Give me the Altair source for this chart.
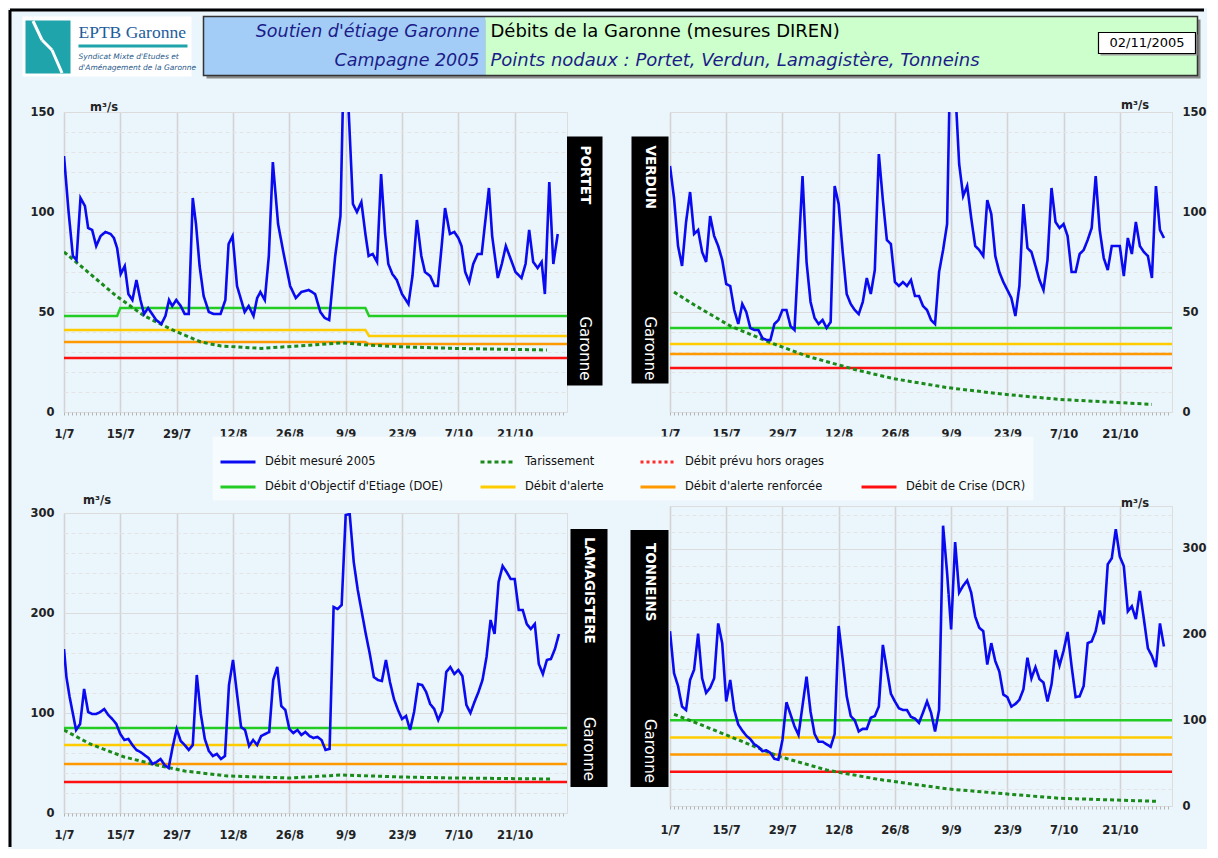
import json
import altair as alt
import pandas as pd

FONT = "DejaVu Sans"
BG = "#eaf5fc"

# ---------------- axis ticks ----------------
X_TICK_DAYS = [0, 14, 28, 42, 56, 70, 84, 98, 112]
X_TICK_LABELS = ["1/7", "15/7", "29/7", "12/8", "26/8", "9/9", "23/9", "7/10", "21/10"]
DAY_SPAN = [0, 125]

# ---------------- legend series ----------------
SERIES = ["Débit mesuré 2005", "Tarissement", "Débit prévu hors orages", " ",
          "Débit d'Objectif d'Etiage (DOE)", "Débit d'alerte", "Débit d'alerte renforcée",
          "Débit de Crise (DCR)"]
SERIES_COLORS = ["#0a0af0", "#1a8a1a", "#ff2a2a", "transparent", "#22cc22", "#ffcc00", "#ff9900", "#ff1010"]
SERIES_DASH = [[1, 0], [4, 3], [3, 3], [1, 0], [1, 0], [1, 0], [1, 0], [1, 0]]

# ---------------- PORTET ----------------
PORTET_DAYS = [0, 1.1, 2.2, 3.1, 4.1, 5.2, 6.0, 7.0, 8.0, 9.1,
               10.3, 11.6, 12.4, 13.2, 14.1, 15.1, 16.0, 17.0, 18.0, 19.0,
               19.9, 20.9, 21.9, 22.9, 24.2, 25.2, 26.1, 26.9, 27.9, 29.0,
               30.0, 31.0, 32.0, 32.8, 33.7, 34.7, 36.0, 37.2, 38.9, 40.1,
               40.9, 41.9, 43.0, 44.9, 45.9, 47.1, 48.0, 48.8, 49.9, 50.9,
               51.9, 53.2, 54.6, 56.2, 57.6, 59.0, 60.8, 62.4, 63.7, 64.8,
               65.9, 67.4, 68.7, 69.8, 70.3, 71.8, 72.8, 73.9, 74.9, 75.7,
               76.7, 77.8, 78.8, 79.8, 80.6, 81.6, 82.7, 84.0, 85.6, 86.6,
               87.7, 88.8, 89.7, 91.0, 92.1, 92.9, 93.9, 94.7, 95.9, 97.0,
               98.0, 98.8, 99.7, 100.7, 101.7, 102.8, 103.8, 105.6, 106.4, 107.8,
               108.8, 109.8, 111.1, 112.2, 113.7, 114.7, 115.6, 116.6, 117.7, 118.7,
               119.5, 120.6, 121.6, 122.7]
PORTET_FLOW = [128, 101, 78, 76, 107, 103, 92, 91, 83, 88,
               90, 89, 87, 82, 69, 73, 59, 56, 66, 56,
               49, 52, 49, 46, 44, 48, 56, 53, 56, 53,
               49, 49, 107, 94, 73, 58, 50, 49, 49, 56,
               84, 88, 63, 50, 53, 48, 57, 60, 56, 78,
               125, 94, 79, 63, 57, 60, 61, 59, 50, 47,
               46, 78, 98, 200, 170, 104, 100, 105, 89, 78,
               79, 75, 119, 89, 74, 69, 66, 59, 54, 68,
               96, 78, 70, 68, 63, 63, 84, 102, 89, 90,
               87, 83, 70, 65, 74, 79, 79, 112, 88, 67,
               74, 83, 76, 70, 67, 74, 91, 75, 72, 75,
               59, 115, 74, 89]
PORTET_TARIS_DAYS = [0, 3, 13, 20, 27, 34, 39, 49, 61, 69, 76, 84, 97, 120]
PORTET_TARIS = [80, 75, 58, 48, 41, 35, 33, 31.8, 33.4, 34.6, 33.4, 32.6, 31.8, 31]
PORTET_DOE_DAYS = [0, 13.2, 14.0, 74.9, 75.8, 125]
PORTET_DOE = [48, 48, 52, 52, 48, 48]
PORTET_STEP_DAYS = [0, 74.9, 75.8, 125]
PORTET_ALERTE = [41, 41, 38, 38]
PORTET_RENF = [35, 35, 34, 34]
PORTET_CRISE = [27, 27]

# ---------------- VERDUN ----------------
VERDUN_DAYS = [0, 1, 2, 3, 4, 5, 6, 7, 8, 9, 10, 11, 12, 13, 14, 15, 16, 17, 18, 19,
               20, 21, 22, 23, 24, 25, 26, 27, 28, 29, 30, 31, 33, 34, 35, 36, 37, 38, 39, 40,
               41, 42, 43, 44, 45, 46, 47, 48, 49, 50, 51, 52, 53, 54, 55, 56, 57, 58, 59, 60,
               61, 62, 63, 64, 65, 66, 67, 68, 69, 70, 71, 72, 73, 74, 75, 76, 77, 78, 79, 80,
               81, 82, 83, 84, 85, 86, 87, 88, 89, 90, 91, 92, 93, 94, 95, 96, 97, 98, 99, 100,
               101, 102, 103, 104, 105, 106, 107, 108, 109, 110, 111, 112, 113, 114, 115, 116,
               117, 118, 119, 120, 121, 122, 123]
VERDUN_FLOW = [123, 107, 83, 73, 95, 110, 89, 91, 80, 75, 98, 88, 83, 76, 64, 63, 51, 44, 54, 50,
               42, 41, 41, 37, 36, 36, 44, 46, 51, 51, 43, 41, 118, 75, 55, 47, 44, 46, 42, 45,
               113, 104, 80, 59, 54, 51, 49, 55, 67, 59, 71, 129, 106, 86, 84, 65, 63, 65, 63, 66,
               58, 58, 53, 51, 46, 44, 70, 81, 94, 200, 163, 124, 108, 113, 97, 83, 81, 78, 106, 99,
               78, 70, 65, 61, 57, 48, 63, 104, 82, 80, 73, 66, 61, 76, 112, 95, 92, 94, 88, 70,
               70, 79, 81, 86, 92, 118, 91, 77, 71, 83, 83, 83, 68, 87, 79, 95,
               83, 80, 78, 67, 113, 91, 87]
VERDUN_TARIS_DAYS = [1, 6, 15, 25, 34, 46.5, 55.6, 69, 83, 97, 120]
VERDUN_TARIS = [60, 53.6, 43, 34.7, 28, 21, 16.7, 12.2, 8.9, 6.3, 3.8]
VERDUN_DOE = [42, 42]
VERDUN_ALERTE = [34, 34]
VERDUN_RENF = [29, 29]
VERDUN_CRISE = [22, 22]

# ---------------- LAMAGISTERE ----------------
LAMAG_DAYS = [0, 0.6, 1.4, 3, 4, 5, 6, 7, 8, 9, 10, 11, 12, 13, 14, 15, 16, 17, 18, 19,
              20, 21, 22, 23, 24, 25, 26, 27, 28, 29, 30, 31, 32, 33, 34, 35, 36, 37, 38, 39,
              40, 41, 42, 43, 44, 45, 46, 47, 48, 49, 50, 51, 52, 53, 54, 55, 56, 57, 58, 59,
              60, 61, 62, 63, 64, 65, 66, 67, 68, 69, 70, 71, 72, 73, 74, 75, 76, 77, 78, 79,
              80, 81, 82, 83, 84, 85, 86, 87, 88, 89, 90, 91, 92, 93, 94, 95, 96, 97, 98, 99,
              100, 101, 102, 103, 104, 105, 106, 107, 108, 109, 110, 111, 112, 113, 114, 115,
              116, 117, 118, 119, 120, 121, 122, 123]
LAMAG_FLOW = [164, 136, 116, 83, 89, 124, 101, 99, 99, 101, 104, 98, 94, 89, 79, 73, 74, 68, 63, 61,
              58, 55, 49, 51, 54, 48, 45, 66, 84, 72, 68, 63, 68, 138, 99, 74, 62, 57, 59, 54,
              57, 128, 153, 119, 86, 83, 67, 73, 68, 77, 79, 81, 133, 146, 107, 103, 84, 80, 83, 78,
              81, 77, 75, 76, 73, 63, 64, 206, 204, 208, 298, 299, 251, 223, 201, 179, 159, 136, 133, 132,
              153, 131, 114, 103, 94, 97, 83, 101, 129, 128, 121, 109, 104, 93, 102, 141, 146, 139, 143, 137,
              108, 100, 111, 121, 133, 156, 193, 179, 231, 247, 241, 234, 234, 203, 203, 189,
              184, 189, 149, 139, 153, 154, 164, 179]
LAMAG_TARIS_DAYS = [0, 6.5, 15, 23, 30, 40.6, 56, 69, 84, 97, 121]
LAMAG_TARIS = [83, 69, 56, 48, 42, 37, 35, 38, 36, 35, 34]
LAMAG_DOE = [85, 85]
LAMAG_ALERTE = [68, 68]
LAMAG_RENF = [49, 49]
LAMAG_CRISE = [31, 31]

# ---------------- TONNEINS ----------------
TONN_DAYS = [0, 1, 2, 3, 4, 5, 6, 7, 8, 9, 10, 11, 12, 13, 14, 15, 16, 17, 18, 19,
             20, 21, 22, 23, 24, 25, 26, 27, 28, 29, 30, 31, 32, 34, 35, 36, 37, 38, 39, 40,
             41, 42, 43, 44, 45, 46, 47, 48, 49, 50, 51, 52, 53, 54, 55, 56, 57, 58, 59, 60,
             61, 62, 63, 64, 65, 66, 67, 68, 69, 70, 71, 72, 73, 74, 75, 76, 77, 78, 79, 80,
             81, 82, 83, 84, 85, 86, 87, 88, 89, 90, 91, 92, 93, 94, 95, 96, 97, 98, 99, 100,
             101, 102, 103, 104, 105, 106, 107, 108, 109, 110, 111, 112, 113, 114, 115, 116,
             117, 118, 119, 120, 121, 122, 123]
TONN_FLOW = [204, 155, 140, 116, 112, 147, 159, 201, 149, 132, 138, 149, 213, 190, 122, 147, 112, 95, 88, 82,
             78, 72, 69, 64, 65, 62, 55, 54, 77, 121, 107, 93, 83, 151, 110, 84, 75, 75, 72, 69,
             84, 210, 171, 128, 105, 100, 87, 90, 90, 103, 105, 116, 188, 159, 131, 122, 114, 112, 112, 104,
             102, 97, 109, 122, 109, 87, 112, 327, 272, 206, 308, 249, 257, 263, 249, 221, 208, 204, 165, 190,
             169, 157, 130, 127, 116, 119, 124, 136, 173, 149, 162, 148, 144, 122, 142, 182, 164, 181, 203, 163,
             127, 128, 140, 190, 192, 204, 228, 212, 282, 289, 323, 291, 280, 227, 233, 218,
             251, 218, 184, 175, 162, 213, 186]
TONN_TARIS_DAYS = [1, 6, 15, 27, 39, 52, 69, 84, 97, 121]
TONN_TARIS = [107, 98, 81, 58, 42, 31, 20, 14, 9, 5.5]
TONN_DOE = [100, 100]
TONN_ALERTE = [80, 80]
TONN_RENF = [60, 60]
TONN_CRISE = [40, 40]

# ---------------- header texts ----------------
LOGO_TITLE = "EPTB Garonne"
LOGO_SUB = ["Syndicat Mixte d'Etudes et", "d'Aménagement de la Garonne"]
HEAD_LEFT = ["Soutien d'étiage Garonne", "Campagne 2005"]
HEAD_RIGHT = ["Débits de la Garonne (mesures DIREN)", "Points nodaux : Portet, Verdun, Lamagistère, Tonneins"]
HEAD_DATE = "02/11/2005"
RIVER = "Garonne"

# ---------------- helpers ----------------
ONE = pd.DataFrame({"k": [0]})
COLOR_SCALE = alt.Scale(domain=SERIES, range=SERIES_COLORS)
DASH_SCALE = alt.Scale(domain=SERIES, range=SERIES_DASH)
LEGEND = alt.Legend(orient="none", legendX=148, legendY=324, columns=4, direction="horizontal",
                    title=None,
                    symbolType="stroke", symbolSize=1225, symbolStrokeWidth=3,
                    labelFont=FONT, labelFontSize=11.5, labelColor="#111", labelLimit=400,
                    labelOffset=8, columnPadding=30, rowPadding=-19, padding=7,
                    fillColor="#f6fbfe", strokeColor="transparent")

DAYS_JS = json.dumps(X_TICK_DAYS)
LABELS_JS = json.dumps(X_TICK_LABELS)


def x_axis(pad):
    return alt.Axis(values=list(range(0, 125)),
                    labelExpr=f"indexof({DAYS_JS}, datum.value) >= 0 ? {LABELS_JS}[indexof({DAYS_JS}, datum.value)] : ''",
                    grid=True,
                    gridColor={"condition": {"test": f"indexof({DAYS_JS}, datum.value) >= 0", "value": "#d4d4d4"},
                               "value": "transparent"},
                    gridWidth=1.5, ticks=True, tickColor="#b4b4b4", tickSize=3, tickWidth=1,
                    domain=False, labelPadding=pad, labelFlush=False, labelOverlap=False,
                    labelFont=FONT, labelFontSize=11.5, labelFontWeight="bold", labelColor="#222",
                    title=None)


def y_axis(ymax, minor, major, orient, tx, ty):
    return alt.Axis(orient=orient, values=list(range(0, ymax + 1, minor)),
                    labelExpr=f"datum.value % {major} === 0 ? datum.label : ''",
                    grid=True,
                    gridColor={"condition": {"test": f"datum.value % {major} === 0", "value": "#dcdcdc"},
                               "value": "#e4e4e4"},
                    gridDash={"condition": {"test": f"datum.value % {major} === 0", "value": []},
                              "value": [4, 3]},
                    gridWidth=1, ticks=False, domain=False, labelPadding=10, labelOverlap=False,
                    labelFont=FONT, labelFontSize=11.5, labelFontWeight="bold", labelColor="#222",
                    title="m³/s", titleAngle=0, titleX=tx, titleY=ty, titleAlign="left",
                    titleBaseline="alphabetic", titleFont=FONT, titleFontSize=11.5,
                    titleFontWeight="bold", titleColor="#222")


def rect(x0, y0, x1, y1, fill, stroke=None, sw=0):
    kw = {"fill": fill}
    if stroke:
        kw.update(stroke=stroke, strokeWidth=sw)
    return alt.Chart(ONE).mark_rect(**kw).encode(
        x=alt.value(x0), x2=alt.value(x1), y=alt.value(y0), y2=alt.value(y1))


def rule(x0, y0, x1, y1, color, sw):
    return alt.Chart(ONE).mark_rule(color=color, strokeWidth=sw).encode(
        x=alt.value(x0), x2=alt.value(x1), y=alt.value(y0), y2=alt.value(y1))


def text(s, x, y, **kw):
    base = dict(font=FONT, baseline="middle")
    base.update(kw)
    return alt.Chart(pd.DataFrame({"t": [s]})).mark_text(**base).encode(
        x=alt.value(x), y=alt.value(y), text="t:N")


def panel(name, days, flow, tdays, taris, thresholds, ymax, minor, major, orient,
          width, tx, ty, box, name_y, river_y, xpad, extra=()):
    thr = []
    for label, tdd, vals in thresholds:
        for d, v in zip(tdd, vals):
            thr.append({"series": label, "day": d, "q": v})
    thr_df = pd.DataFrame(thr)
    tar_df = pd.DataFrame({"series": SERIES[1], "day": tdays, "q": taris})
    flow_df = pd.DataFrame({"series": SERIES[0], "day": days, "q": flow})

    enc = dict(
        x=alt.X("day:Q", scale=alt.Scale(domain=DAY_SPAN, nice=False, zero=False), axis=x_axis(xpad)),
        y=alt.Y("q:Q", scale=alt.Scale(domain=[0, ymax], nice=False, zero=True),
                axis=y_axis(ymax, minor, major, orient, tx, ty)),
        color=alt.Color("series:N", scale=COLOR_SCALE, legend=LEGEND),
        strokeDash=alt.StrokeDash("series:N", scale=DASH_SCALE, legend=LEGEND),
    )
    l_thr = alt.Chart(thr_df).mark_line(strokeWidth=2.5, clip=True).encode(**enc)
    l_tar = alt.Chart(tar_df).mark_line(strokeWidth=3, clip=True).encode(**enc)
    l_flow = alt.Chart(flow_df).mark_line(strokeWidth=2.6, clip=True).encode(**enc)

    bx0, by0, bx1, by1 = box
    cx = (bx0 + bx1) / 2
    deco = [
        rect(bx0, by0, bx1, by1, "#000000"),
        text(name, cx, name_y, angle=90, align="left", fontSize=13.5, fontWeight="bold", color="white"),
        text(RIVER, cx, river_y, angle=90, align="right", fontSize=15, color="white"),
    ]
    return alt.layer(*extra, l_thr, l_tar, l_flow, *deco).properties(width=width, height=300)


thr_portet = [(SERIES[7], DAY_SPAN, PORTET_CRISE), (SERIES[6], PORTET_STEP_DAYS, PORTET_RENF),
              (SERIES[5], PORTET_STEP_DAYS, PORTET_ALERTE), (SERIES[4], PORTET_DOE_DAYS, PORTET_DOE)]
thr_verdun = [(SERIES[7], DAY_SPAN, VERDUN_CRISE), (SERIES[6], DAY_SPAN, VERDUN_RENF),
              (SERIES[5], DAY_SPAN, VERDUN_ALERTE), (SERIES[4], DAY_SPAN, VERDUN_DOE)]
thr_lamag = [(SERIES[7], DAY_SPAN, LAMAG_CRISE), (SERIES[6], DAY_SPAN, LAMAG_RENF),
             (SERIES[5], DAY_SPAN, LAMAG_ALERTE), (SERIES[4], DAY_SPAN, LAMAG_DOE)]
thr_tonn = [(SERIES[7], DAY_SPAN, TONN_CRISE), (SERIES[6], DAY_SPAN, TONN_RENF),
            (SERIES[5], DAY_SPAN, TONN_ALERTE), (SERIES[4], DAY_SPAN, TONN_DOE)]

# header decorations, drawn in the coordinate frame of the first panel
NAVY = "#1c1c88"
header = [
    rule(-54, -102, 1140, -102, "#000000", 3),
    rule(-54, -102, -54, 735, "#000000", 3),
    rect(-41.5, -95.5, 127.5, -35.5, "#ffffff"),
    rect(-38.5, -91.5, 6.5, -38.5, "#1ea4aa"),
    rule(-31, -91, -22, -72, "#ffffff", 3),
    rule(-22, -72, -12, -62, "#ffffff", 3),
    rule(-12, -62, -2, -39, "#ffffff", 3),
    text(LOGO_TITLE, 14.5, -79, align="left", font="Liberation Serif", fontSize=17.5, color="#1d5d9c"),
    rect(14.5, -67.5, 123.5, -64.5, "#1ea4aa"),
    text(LOGO_SUB[0], 14.5, -55.5, align="left", fontSize=7.5, fontStyle="italic", color="#2a5a8a"),
    text(LOGO_SUB[1], 14.5, -44, align="left", fontSize=7.5, fontStyle="italic", color="#2a5a8a"),
    rect(142.5, -92.5, 1136.5, -33.5, "#8c8c8c"),
    rect(139.5, -95.5, 421.5, -36.5, "#a3cdf7"),
    rect(421.5, -95.5, 1133.5, -36.5, "#ccffcc"),
    rect(139.5, -95.5, 1133.5, -36.5, "transparent", "#333333", 1.5),
    text(HEAD_LEFT[0], 415.5, -80.5, align="right", fontSize=17.5, fontStyle="italic", color=NAVY),
    text(HEAD_LEFT[1], 415.5, -51.5, align="right", fontSize=17.5, fontStyle="italic", color=NAVY),
    text(HEAD_RIGHT[0], 426.5, -80.5, align="left", fontSize=18, color="#000000"),
    text(HEAD_RIGHT[1], 426.5, -51.5, align="left", fontSize=18, fontStyle="italic", color=NAVY),
    rect(1036.5, -77.5, 1133.5, -56.5, "#9a9a9a"),
    rect(1034.5, -79.5, 1131.5, -58.5, "#ffffff", "#000000", 1.2),
    text(HEAD_DATE, 1083, -69, align="center", fontSize=13, color="#000000"),
]

portet = panel("PORTET", PORTET_DAYS, PORTET_FLOW, PORTET_TARIS_DAYS, PORTET_TARIS, thr_portet,
               150, 10, 50, "left", 503, 25.5, -2, (503, 24.5, 538.5, 273.5), 33.5, 268.5, 13,
               extra=header)
verdun = panel("VERDUN", VERDUN_DAYS, VERDUN_FLOW, VERDUN_TARIS_DAYS, VERDUN_TARIS, thr_verdun,
               150, 10, 50, "right", 502, -51.5, -4, (-38.5, 24.5, -1.5, 271.5), 33.5, 268.5, 13)
lamag = panel("LAMAGISTERE", LAMAG_DAYS, LAMAG_FLOW, LAMAG_TARIS_DAYS, LAMAG_TARIS, thr_lamag,
              300, 20, 100, "left", 503, 18.5, -10, (506.5, 16, 543.5, 274), 24, 268, 13)
tonneins = panel("TONNEINS", TONN_DAYS, TONN_FLOW, TONN_TARIS_DAYS, TONN_TARIS, thr_tonn,
                 350, 20, 100, "right", 502, -51.5, 0, (-39.5, 24, -1.5, 281), 37, 277, 15)

# with flush bounds a nested column counts as zero-wide, so the spacing is the full column offset
left = alt.vconcat(portet, lamag, spacing=101, bounds="flush")
right = alt.vconcat(verdun, tonneins, spacing=94, bounds="flush")
chart = alt.hconcat(left, right, spacing=606, bounds="flush").properties(
    padding=0, background=BG
).configure_view(stroke="#333333", strokeWidth=2).configure(font=FONT)

chart.save("out.html", embed_options={"renderer": "svg", "actions": False})
